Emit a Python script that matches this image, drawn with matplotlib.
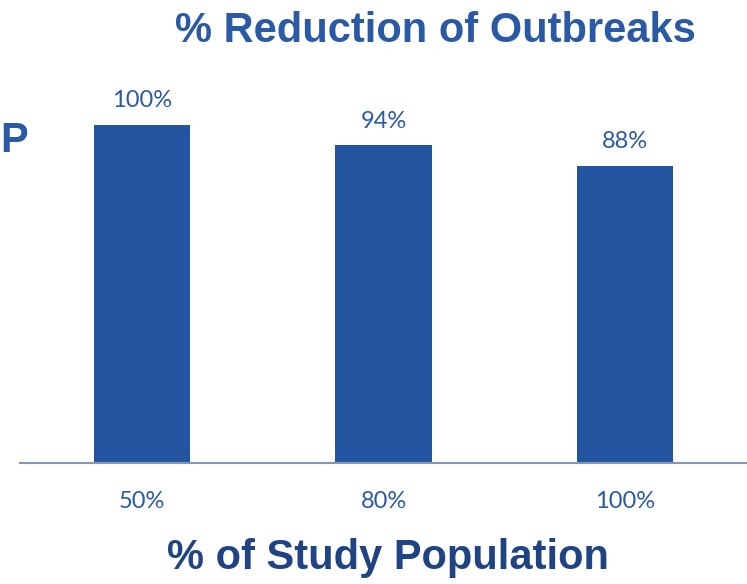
import matplotlib
matplotlib.use("Agg")
import matplotlib.pyplot as plt
import numpy as np

categories = ["50%", "80%", "100%"]
values = [100, 94, 88]
value_labels = ["100%", "94%", "88%"]

bar_color = "#2455a0"
title_color = "#2a59a6"
label_color = "#1f4383"

plt.rcParams['font.family'] = ['Liberation Sans', 'DejaVu Sans']

fig = plt.figure(figsize=(7.47, 5.84), dpi=100)
ax = fig.add_axes([20 / 747, (584 - 463) / 584, 727 / 747, 338 / 584 / 1.0])

x = np.arange(len(categories))
ax.bar(x, values, width=0.4, color=bar_color, zorder=2)
for xi, v, lab in zip(x, values, value_labels):
    ax.text(xi, v + 4, lab, ha="center", va="bottom", fontsize=17,
            color=title_color, family=['Lato', 'DejaVu Sans'])

ax.set_xlim(-0.5 + 0.0 - (142 - 20 - 120.75) / 241.5, 2.5 + (747 - 625 - 120.75) / 241.5)
ax.set_ylim(0, 100)
ax.set_xticks(x)
ax.set_xticklabels(categories, fontsize=17, color=title_color,
                   family=['Lato', 'DejaVu Sans'])
ax.tick_params(axis="x", length=0, pad=20)
ax.set_yticks([])
for s in ["top", "right", "left"]:
    ax.spines[s].set_visible(False)
ax.spines["bottom"].set_color("#8497b0")
ax.spines["bottom"].set_linewidth(1.5)

fig.text(435 / 747, 1 - 31 / 584, "% Reduction of Outbreaks", ha="center", va="center",
         fontsize=30, fontweight="bold", color=title_color)
fig.text(0.5 / 747, 1 - 141 / 584, "P", ha="left", va="center",
         fontsize=30, fontweight="bold", color=title_color)
fig.text(388 / 747, 1 - 558 / 584, "% of Study Population", ha="center", va="center",
         fontsize=30, fontweight="bold", color=label_color)

fig.savefig("out.png", dpi=100)
